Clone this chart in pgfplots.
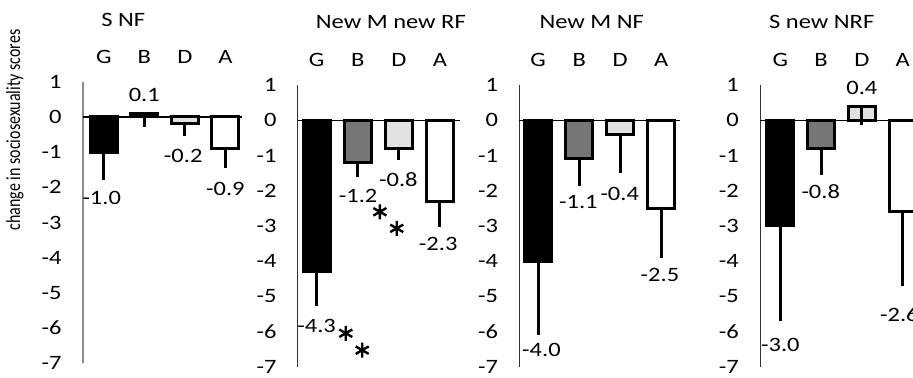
\documentclass[border=0pt]{standalone}
\usepackage{fontspec}
\setmainfont{Carlito}[FakeStretch=1.2]
\newfontfamily\ylabfont{Carlito}
\usepackage{graphicx}
\usepackage{pgfplots}
\pgfplotsset{compat=1.18}
\definecolor{barB}{RGB}{118,118,118}
\definecolor{barD}{RGB}{226,226,226}
\definecolor{axgray}{RGB}{140,140,140}
\pgfplotsset{
 panel/.style={
  scale only axis, anchor=south west, clip=false,
  ymin=-7, ymax=1,
  axis y line*=left, axis x line*=top,
  x axis line style={draw=none},
  ytick={-7,-6,-5,-4,-3,-2,-1,0,1},
  yticklabels={-7,-6,-5,-4,-3,-2,-1,0,1},
  xtick={0,1,2,3}, xticklabels={G,B,D,A},
  major tick length=0pt, tick style={draw=none},
  xticklabel style={anchor=base, yshift=9.2pt, inner sep=0pt},
  yticklabel style={anchor=east, inner sep=0pt, xshift=-10.4pt},
  extra y ticks={0}, extra y tick labels={},
  extra y tick style={grid=major, major grid style={black, line width=0.6pt}},
  font=\fontsize{10.2}{12}\selectfont,
  tick label style={font=\fontsize{10.2}{12}\selectfont},
 },
 bars/.style={ybar, bar shift=0pt, bar width=13.5pt, draw=black, line width=1.5pt,
   error bars/y dir=minus, error bars/y explicit, error bars/error mark=none,
   error bars/error bar style={line width=1.5pt, black}},
 stars/.style={only marks, mark=asterisk, mark size=3.75pt, mark options={line width=1.2pt, black}},
}
\tikzset{lab/.style={anchor=center, inner sep=0pt, font=\fontsize{10.2}{12}\selectfont}}
\begin{document}
\begin{tikzpicture}
\useasboundingbox (0,0) rectangle (456.5pt,188.5pt);
\clip (0,0) rectangle (456.5pt,188.5pt);

% y label and titles
\node[rotate=90, inner sep=0pt, font=\ylabfont\fontsize{8.0}{9}\selectfont] at (7.5pt,123.5pt) {\scalebox{1}[1.25]{change in sociosexuality scores}};
\node[lab] at (61.65pt,178.75pt) {S NF};
\node[lab] at (195.4pt,177.65pt) {New M new RF};
\node[lab] at (295.85pt,177.5pt) {New M NF};
\node[lab] at (410.85pt,177.5pt) {S new NRF};

% Panel 1
\begin{axis}[panel, at={(41.35pt,6.85pt)}, width=79.65pt, height=140.8pt,
  xmin=-0.52, xmax=3.41, y axis line style={axgray, line width=1pt}]
\addplot[fill=black, bars] coordinates {(0,-1.0) +- (0,0.8)};
\addplot[fill=barB, bars] coordinates {(1,0.1) +- (0,0.4)};
\addplot[fill=barD, bars] coordinates {(2,-0.2) +- (0,0.33)};
\addplot[fill=white, bars] coordinates {(3,-0.9) +- (0,0.54)};
\node[lab] at (axis cs:1.0,0.62) {0.1};
\node[lab] at (axis cs:1.96,-1.11) {-0.2};
\node[lab] at (axis cs:-0.05,-2.30) {-1.0};
\node[lab] at (axis cs:3.0,-2.05) {-0.9};
\end{axis}

% Panel 2
\begin{axis}[panel, at={(148.85pt,5.15pt)}, width=81.15pt, height=140.85pt,
  xmin=-0.46, xmax=3.49, y axis line style={black!80, line width=0.5pt}]
\addplot[fill=black, bars] coordinates {(0,-4.3) +- (0,0.97)};
\addplot[fill=barB, bars] coordinates {(1,-1.2) +- (0,0.42)};
\addplot[fill=barD, bars] coordinates {(2,-0.8) +- (0,0.34)};
\addplot[fill=white, bars] coordinates {(3,-2.3) +- (0,0.73)};
\addplot[stars] coordinates {(1.54,-2.60) (1.95,-3.07) (0.71,-6.05) (1.11,-6.53)};
\node[lab] at (axis cs:1.01,-2.15) {-1.2};
\node[lab] at (axis cs:1.99,-1.70) {-0.8};
\node[lab] at (axis cs:2.96,-3.52) {-2.3};
\node[lab] at (axis cs:0.0,-5.85) {-4.3};
\end{axis}

% Panel 3
\begin{axis}[panel, at={(259.65pt,5.15pt)}, width=80.35pt, height=140.85pt,
  xmin=-0.46, xmax=3.46, y axis line style={black!80, line width=0.5pt}]
\addplot[fill=black, bars] coordinates {(0,-4.0) +- (0,2.1)};
\addplot[fill=barB, bars] coordinates {(1,-1.1) +- (0,0.78)};
\addplot[fill=barD, bars] coordinates {(2,-0.4) +- (0,1.1)};
\addplot[fill=white, bars] coordinates {(3,-2.5) +- (0,1.4)};
\node[lab] at (axis cs:0.98,-2.32) {-1.1};
\node[lab] at (axis cs:1.99,-2.08) {-0.4};
\node[lab] at (axis cs:2.97,-4.40) {-2.5};
\node[lab] at (axis cs:0.08,-6.53) {-4.0};
\end{axis}

% Panel 4
\begin{axis}[panel, at={(380pt,5.15pt)}, width=80.7pt, height=140.85pt,
  xmin=-0.5, xmax=3.46, y axis line style={black!80, line width=0.5pt}]
\addplot[fill=black, bars] coordinates {(0,-3.0) +- (0,2.7)};
\addplot[fill=barB, bars] coordinates {(1,-0.8) +- (0,0.76)};
\addplot[fill=barD, bars] coordinates {(2,0.4) +- (0,0.54)};
\addplot[fill=white, bars] coordinates {(3,-2.6) +- (0,2.1)};
\node[lab] at (axis cs:2.0,0.91) {0.4};
\node[lab] at (axis cs:0.99,-2.03) {-0.8};
\node[lab] at (axis cs:0.0,-6.39) {-3.0};
\node[lab] at (axis cs:2.92,-5.53) {-2.6};
\end{axis}
\end{tikzpicture}
\end{document}
